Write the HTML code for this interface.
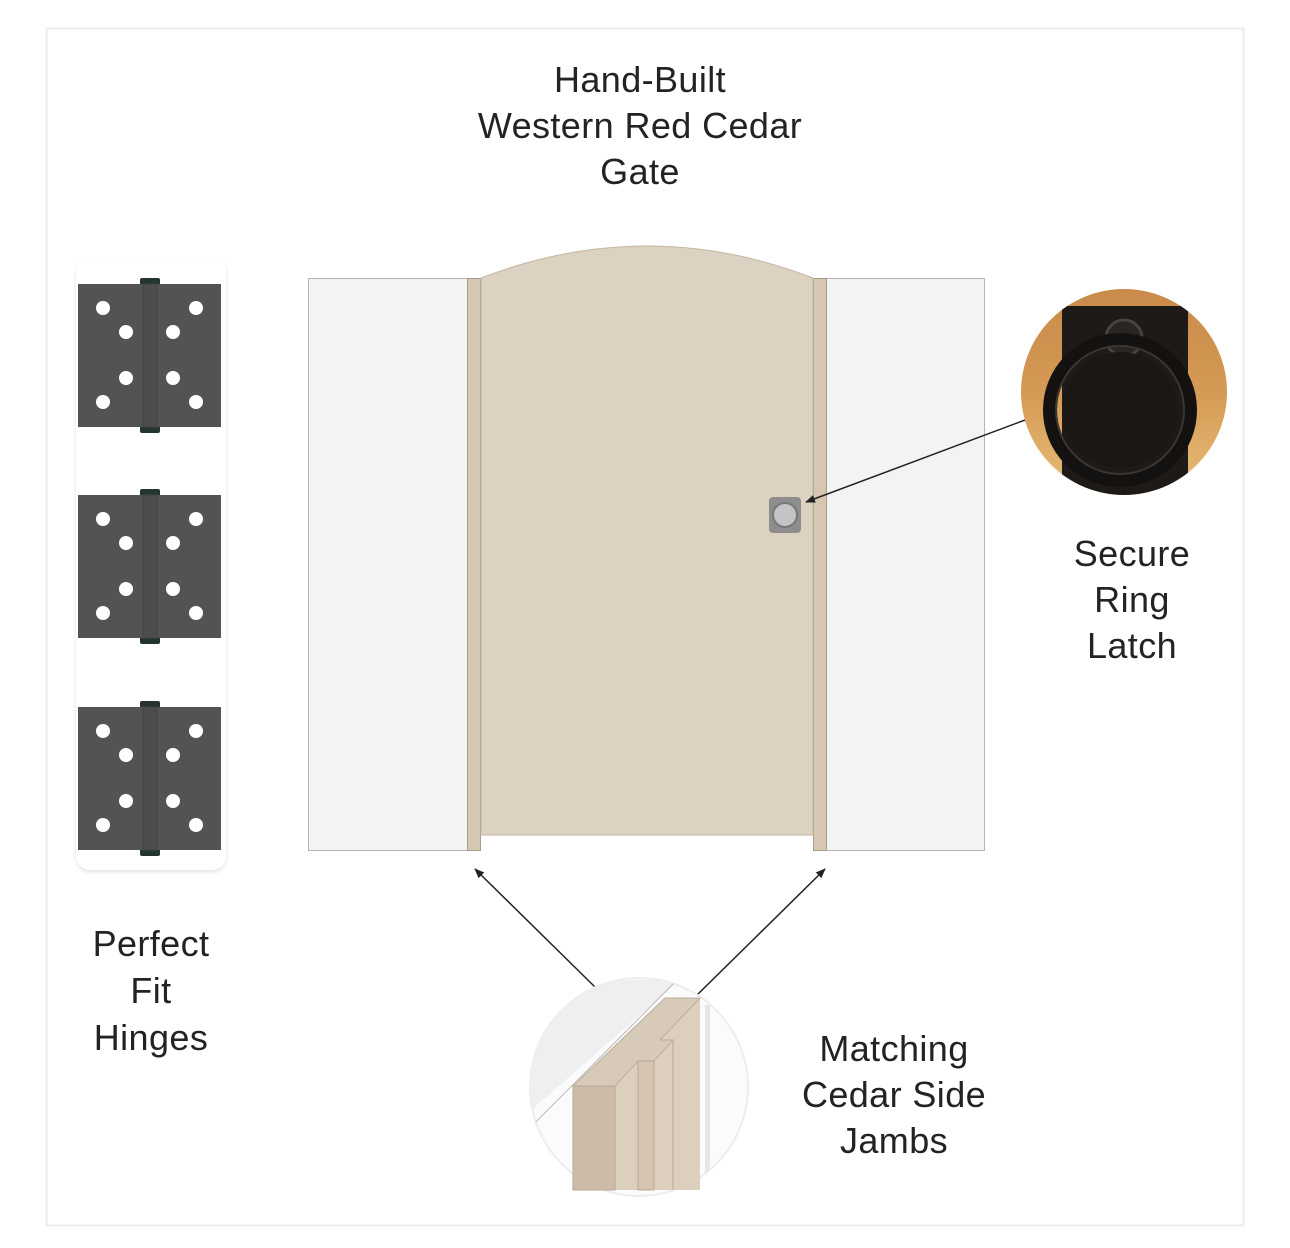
<!DOCTYPE html>
<html><head><meta charset="utf-8"><style>
html,body{margin:0;padding:0;background:#fff;}
svg{display:block;}
text{font-family:"Liberation Sans",sans-serif;font-size:36px;letter-spacing:0.4px;fill:#232323;text-anchor:middle;}
</style></head><body>
<svg width="1290" height="1248" viewBox="0 0 1290 1248" xmlns="http://www.w3.org/2000/svg">
<defs>
<marker id="ah" markerWidth="10" markerHeight="8" refX="9" refY="4" orient="auto" markerUnits="userSpaceOnUse">
<path d="M0,0 L10,4 L0,8 Z" fill="#222"/></marker>
<clipPath id="cc"><circle cx="639" cy="1087" r="109"/></clipPath>
<clipPath id="lc"><circle cx="1124" cy="392" r="103"/></clipPath>
<linearGradient id="wood" x1="0" y1="0" x2="0" y2="1">
<stop offset="0" stop-color="#c98a4a"/><stop offset="0.5" stop-color="#d49a55"/><stop offset="1" stop-color="#e8bf7a"/></linearGradient>
<filter id="sh" x="-10%" y="-5%" width="120%" height="110%"><feDropShadow dx="0" dy="2" stdDeviation="2" flood-color="#000" flood-opacity="0.12"/></filter>
<g id="hinge">
<rect x="140" y="-6" width="20" height="8" rx="2" fill="#23352e"/>
<rect x="140" y="141" width="20" height="8" rx="2" fill="#23352e"/>
<rect x="78" y="0" width="143" height="143" fill="#535353"/>
<rect x="143" y="0" width="14" height="143" fill="#4d4d4d" stroke="#444" stroke-width="1"/>
<g fill="#fff">
<circle cx="103" cy="24" r="7"/><circle cx="126" cy="48" r="7"/><circle cx="173" cy="48" r="7"/><circle cx="196" cy="24" r="7"/>
<circle cx="126" cy="94" r="7"/><circle cx="173" cy="94" r="7"/><circle cx="103" cy="118" r="7"/><circle cx="196" cy="118" r="7"/>
</g></g>
</defs>
<rect x="46.5" y="28.5" width="1197" height="1197" fill="#fff" stroke="#ececec" stroke-width="2"/>

<text x="640" y="92">Hand-Built</text>
<text x="640" y="138">Western Red Cedar</text>
<text x="640" y="184">Gate</text>

<!-- gate -->
<rect x="308.5" y="278.5" width="159" height="572" fill="#f3f3f3" stroke="#b5b5b5"/>
<rect x="826.5" y="278.5" width="158" height="572" fill="#f3f3f3" stroke="#b5b5b5"/>
<rect x="467.5" y="278.5" width="13" height="572" fill="#d5c7b2" stroke="#a89c8a"/>
<rect x="813.5" y="278.5" width="13" height="572" fill="#d5c7b2" stroke="#a89c8a"/>
<path d="M481,278 Q647,214 813,278 L813,835 L481,835 Z" fill="#ddd1c1" stroke="#c4b7a4"/>
<rect x="769" y="497" width="32" height="36" rx="4" fill="#8d8d8d"/>
<circle cx="785" cy="515" r="12" fill="#c4c4c6" stroke="#777" stroke-width="2"/>
<line x1="1025" y1="420" x2="806" y2="502" stroke="#222" stroke-width="1.5" marker-end="url(#ah)"/>

<!-- latch photo -->
<g clip-path="url(#lc)">
<rect x="1020" y="288" width="210" height="210" fill="url(#wood)"/>
<rect x="1062" y="306" width="126" height="200" rx="4" fill="#1e1a17"/>
<circle cx="1124" cy="338" r="18" fill="#2a2522" stroke="#444" stroke-width="3"/>
<circle cx="1120" cy="410" r="70" fill="none" stroke="#141210" stroke-width="14"/>
<circle cx="1120" cy="410" r="64" fill="none" stroke="#3a3633" stroke-width="2"/>
<circle cx="1120" cy="410" r="58" fill="#1a1715"/>
</g>

<text x="1132" y="566">Secure</text>
<text x="1132" y="612">Ring</text>
<text x="1132" y="658">Latch</text>

<!-- hinges panel -->
<rect x="76" y="258" width="150" height="612" rx="14" fill="#fff" filter="url(#sh)"/>
<use href="#hinge" transform="translate(0,284)"/>
<use href="#hinge" transform="translate(0,495)"/>
<use href="#hinge" transform="translate(0,707)"/>

<text x="151" y="956">Perfect</text>
<text x="151" y="1003">Fit</text>
<text x="151" y="1050">Hinges</text>

<!-- jamb arrows -->
<line x1="596" y1="988" x2="475" y2="869" stroke="#222" stroke-width="1.5" marker-end="url(#ah)"/>
<line x1="697" y1="995" x2="825" y2="869" stroke="#222" stroke-width="1.5" marker-end="url(#ah)"/>

<!-- jamb detail -->
<circle cx="639" cy="1087" r="109" fill="#fbfbfb" stroke="#ededed" stroke-width="2"/>
<g clip-path="url(#cc)">
<path d="M520,1120 L680,980 L520,980 Z" fill="#efeff1"/>
<line x1="520" y1="1138" x2="675" y2="982" stroke="#bbb" stroke-width="1"/>
<rect x="705" y="1005" width="5" height="190" fill="#e6e6e8"/>
</g>
<path d="M573,1086 L665,998 L700,998 L700,1190 L573,1190 Z" fill="#dccfbe"/>
<path d="M573,1086 L665,998 L700,998 L660,1040 L673,1040 L654,1061 L638,1061 L615,1086 Z" fill="#d8cab8" stroke="#bcae9b" stroke-width="1"/>
<rect x="573" y="1086" width="42" height="104" fill="#cdbba8" stroke="#b9a894" stroke-width="1"/>
<rect x="638" y="1061" width="16" height="129" fill="#d5c5b2" stroke="#b9a894" stroke-width="1"/>
<line x1="673" y1="1040" x2="673" y2="1190" stroke="#b9a894"/>
<line x1="615" y1="1086" x2="615" y2="1190" stroke="#b9a894"/>

<text x="894" y="1061">Matching</text>
<text x="894" y="1107">Cedar Side</text>
<text x="894" y="1153">Jambs</text>
</svg>
</body></html>
